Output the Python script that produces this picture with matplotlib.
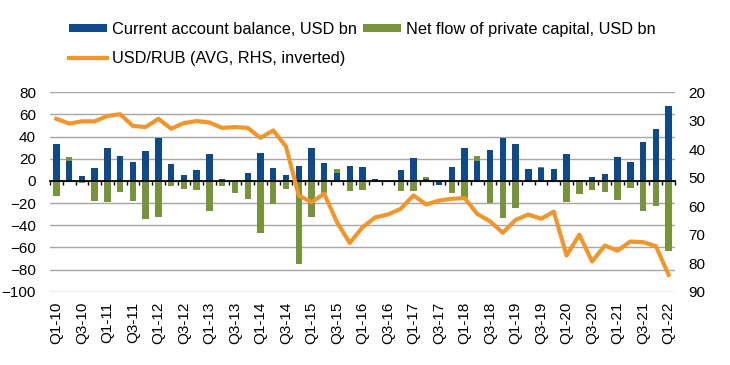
import numpy as np
import matplotlib.pyplot as plt

plt.rcParams['font.family'] = ['Liberation Sans', 'DejaVu Sans']

# quarters Q1-10 .. Q1-22
quarters = ['Q%d-%02d' % (q, y) for y in range(10, 23) for q in range(1, 5)][:49]

current_account = [33, 18, 4.5, 11.4, 29.4, 22.5, 17.4, 26.7, 39, 15.6,
                   5, 10, 24.3, 1.5, 0, 7.5, 25.5, 11.4, 5.7, 13.5,
                   29.4, 16, 7.5, 13.5, 12.6, 2, 0, 9.6, 21, 1.5,
                   -3.6, 13, 30, 18, 28, 39, 33.6, 10.5, 11.4, 10.5,
                   24, 1, 3.6, 6, 22, 17.4, 35, 46.5, 68]

private_capital = [-14, 22, -1.5, -18, -18.6, -10, -18, -34, -33, -4.5,
                   -7, -8, -27.6, -5, -11, -16.5, -47, -21, -7, -75,
                   -32.4, -10.5, 10.5, -9, -8, 0, 0, -9, -9, 3.6,
                   -1, -10.5, -15, 22.5, -19.5, -33.6, -24, 0, 12.6, 0,
                   -18.6, -12, -8, -10, -17, -6, -27.6, -22.5, -63.6]

usdrub = [29.3, 31, 30.2, 30.2, 28.3, 27.7, 31.8, 32.2, 29.3, 32.8,
          30.8, 30.1, 30.6, 32.5, 32.2, 32.5, 36, 33.4, 39, 56.2,
          58.6, 55.6, 65.6, 72.9, 67.4, 63.9, 62.9, 60.9, 56.2, 59.4,
          58, 57.4, 57.1, 62.7, 65.3, 69.3, 64.8, 62.9, 64.4, 61.9,
          77.3, 70, 79.4, 73.8, 75.6, 72.4, 72.6, 74, 84.1]

blue = '#0E4A8A'
green = '#77933C'
orange = '#F0962D'

x = np.arange(len(quarters))

fig = plt.figure(figsize=(7.3, 3.65), dpi=100)
ax = fig.add_axes([50/730, 1-291.7/365, 625/730, 199.4/365])

b2 = ax.bar(x, private_capital, width=0.5, color=green, zorder=2,
            label='Net flow of private capital, USD bn')
b1 = ax.bar(x, current_account, width=0.5, color=blue, zorder=3,
            label='Current account balance, USD bn')

ax.set_xlim(-0.5, len(quarters) - 0.5)
ax.set_ylim(-100, 80)
ax.set_yticks(np.arange(-100, 81, 20))
ax.yaxis.grid(True, color='#A6A6A6', lw=1)
ax.set_axisbelow(True)
for s in ['top', 'left', 'right']:
    ax.spines[s].set_visible(False)
ax.spines['bottom'].set_position(('data', 0))
ax.spines['bottom'].set_color('black')
ax.spines['bottom'].set_linewidth(1.3)
ax.spines['bottom'].set_zorder(4)
ax.set_xticks(np.arange(-0.5, len(quarters), 1))
ax.set_xticklabels([])
ax.tick_params(axis='x', direction='out', length=3, width=1, color='black')
ax.tick_params(axis='y', length=0, pad=10, labelsize=11)

# category labels at the bottom of the plot area
sec = ax.secondary_xaxis('bottom')
sec.set_xticks(x[::2], quarters[::2], rotation=90)
sec.tick_params(length=0, pad=7, labelsize=11)
sec.spines['bottom'].set_visible(False)

ax2 = ax.twinx()
ln, = ax2.plot(x, usdrub, color=orange, lw=3, solid_joinstyle='round',
               label='USD/RUB (AVG, RHS, inverted)')
ax2.set_ylim(90, 20)
ax2.set_yticks(np.arange(20, 91, 10))
ax2.tick_params(axis='y', length=0, pad=9.5, labelsize=11)
for s in ax2.spines.values():
    s.set_visible(False)

fig.legend(handles=[b1, ln, b2], ncol=2, loc='upper left',
           bbox_to_anchor=(69/730, 1-22/365), frameon=False, fontsize=11.8,
           handlelength=2.3, handleheight=0.4, handletextpad=0.3,
           columnspacing=0.4, labelspacing=0.87, borderpad=0, borderaxespad=0)

fig.savefig('out.png', dpi=100)
